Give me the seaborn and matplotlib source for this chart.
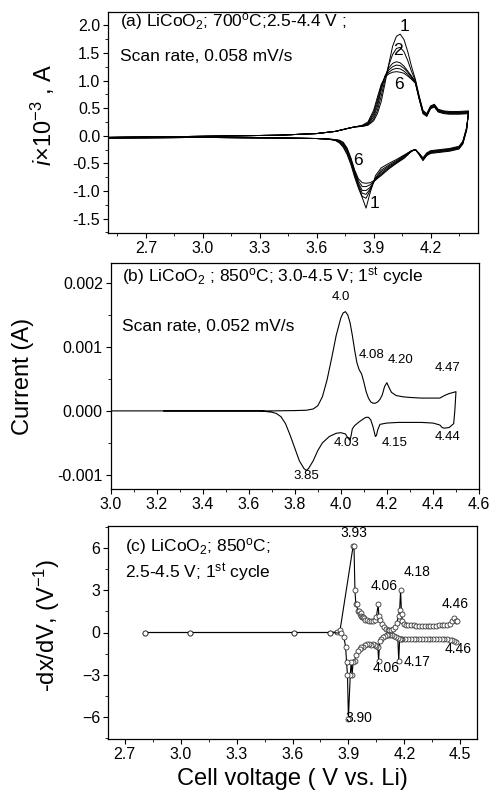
import numpy as np
import pandas as pd
import matplotlib
matplotlib.use("Agg")
import matplotlib.pyplot as plt
import seaborn as sns
from matplotlib.ticker import MultipleLocator, AutoMinorLocator, FormatStrFormatter

# ---------------- data : panel (a), 6 CV cycles, current in mA ----------------
va_ox = [2.50, 3.00, 3.40, 3.60, 3.70, 3.76, 3.80, 3.84, 3.87, 3.90, 3.92, 3.94, 3.96, 3.98, 4.00, 4.02,
         4.04, 4.06, 4.08, 4.10, 4.12, 4.14, 4.16, 4.18, 4.20, 4.22, 4.24, 4.27, 4.30, 4.35, 4.40]
a_ox1 = [-0.03, -0.01, 0.01, 0.04, 0.08, 0.13, 0.16, 0.17, 0.19, 0.27, 0.40, 0.62, 0.95, 1.30, 1.62, 1.80,
         1.84, 1.74, 1.52, 1.25, 1.02, 0.72, 0.46, 0.40, 0.54, 0.57, 0.48, 0.45, 0.44, 0.44, 0.45]
a_ox2 = [-0.03, -0.01, 0.01, 0.04, 0.08, 0.13, 0.16, 0.17, 0.20, 0.30, 0.46, 0.72, 1.02, 1.28, 1.47, 1.58,
         1.60, 1.52, 1.36, 1.16, 1.00, 0.70, 0.44, 0.39, 0.53, 0.56, 0.47, 0.44, 0.43, 0.43, 0.44]
a_ox3 = [-0.03, -0.01, 0.01, 0.04, 0.08, 0.13, 0.16, 0.18, 0.21, 0.34, 0.53, 0.82, 1.08, 1.23, 1.31, 1.34,
         1.32, 1.26, 1.17, 1.08, 0.98, 0.69, 0.43, 0.38, 0.52, 0.55, 0.46, 0.43, 0.42, 0.42, 0.43]
a_ox4 = [-0.03, -0.01, 0.01, 0.04, 0.08, 0.13, 0.16, 0.18, 0.22, 0.38, 0.59, 0.87, 1.08, 1.19, 1.25, 1.28,
         1.27, 1.22, 1.15, 1.06, 0.97, 0.68, 0.42, 0.37, 0.51, 0.54, 0.45, 0.42, 0.41, 0.41, 0.42]
a_ox5 = [-0.03, -0.01, 0.01, 0.04, 0.08, 0.13, 0.16, 0.18, 0.23, 0.42, 0.65, 0.90, 1.07, 1.15, 1.20, 1.22,
         1.21, 1.17, 1.11, 1.04, 0.96, 0.67, 0.41, 0.36, 0.50, 0.53, 0.44, 0.41, 0.40, 0.40, 0.41]
a_ox6 = [-0.03, -0.01, 0.01, 0.04, 0.08, 0.13, 0.16, 0.19, 0.25, 0.46, 0.70, 0.93, 1.06, 1.12, 1.15, 1.16,
         1.15, 1.13, 1.08, 1.02, 0.95, 0.66, 0.40, 0.35, 0.49, 0.52, 0.43, 0.40, 0.39, 0.39, 0.40]

va_red = [4.40, 4.39, 4.37, 4.35, 4.30, 4.25, 4.20, 4.18, 4.16, 4.14, 4.12, 4.10, 4.06, 4.02, 3.98, 3.94,
          3.91, 3.88, 3.86, 3.84, 3.82, 3.80, 3.78, 3.76, 3.74, 3.72, 3.70, 3.66, 3.60, 3.40, 3.00, 2.50]
a_red1 = [0.45, 0.10, -0.15, -0.24, -0.28, -0.30, -0.32, -0.36, -0.45, -0.34, -0.25, -0.27, -0.35, -0.43, -0.50, -0.58,
          -0.72, -1.05, -1.31, -1.12, -0.95, -0.75, -0.52, -0.34, -0.21, -0.13, -0.09, -0.06, -0.05, -0.04, -0.03, -0.04]
a_red2 = [0.44, 0.11, -0.14, -0.23, -0.27, -0.29, -0.31, -0.35, -0.44, -0.34, -0.25, -0.27, -0.36, -0.45, -0.53, -0.62,
          -0.76, -1.00, -1.13, -1.10, -0.92, -0.72, -0.49, -0.31, -0.19, -0.12, -0.08, -0.06, -0.05, -0.04, -0.03, -0.04]
a_red3 = [0.43, 0.12, -0.13, -0.22, -0.26, -0.28, -0.30, -0.34, -0.43, -0.33, -0.25, -0.27, -0.37, -0.47, -0.55, -0.65,
          -0.78, -0.97, -1.06, -1.04, -0.89, -0.69, -0.46, -0.28, -0.17, -0.11, -0.08, -0.06, -0.05, -0.04, -0.03, -0.04]
a_red4 = [0.42, 0.13, -0.12, -0.21, -0.25, -0.27, -0.29, -0.33, -0.42, -0.33, -0.25, -0.28, -0.38, -0.48, -0.57, -0.68,
          -0.79, -0.94, -0.99, -0.99, -0.86, -0.67, -0.44, -0.26, -0.15, -0.10, -0.07, -0.06, -0.05, -0.04, -0.03, -0.04]
a_red5 = [0.41, 0.14, -0.11, -0.20, -0.24, -0.26, -0.28, -0.32, -0.41, -0.32, -0.25, -0.28, -0.40, -0.49, -0.59, -0.70,
          -0.80, -0.89, -0.92, -0.92, -0.82, -0.64, -0.42, -0.24, -0.13, -0.09, -0.07, -0.06, -0.05, -0.04, -0.03, -0.04]
a_red6 = [0.40, 0.15, -0.10, -0.19, -0.23, -0.25, -0.27, -0.31, -0.40, -0.32, -0.25, -0.28, -0.41, -0.50, -0.60, -0.72,
          -0.80, -0.85, -0.86, -0.85, -0.78, -0.62, -0.40, -0.22, -0.12, -0.08, -0.07, -0.06, -0.05, -0.04, -0.03, -0.04]

# ---------------- data : panel (b), 1st cycle, current in mA ----------------
vb_ox = [3.23, 3.50, 3.70, 3.80, 3.85, 3.88, 3.90, 3.92, 3.94, 3.96, 3.98, 4.00, 4.01, 4.02, 4.03, 4.04,
         4.05, 4.06, 4.07, 4.08, 4.09, 4.10, 4.11, 4.12, 4.13, 4.14, 4.15, 4.16, 4.17, 4.18, 4.19, 4.20,
         4.21, 4.22, 4.24, 4.27, 4.30, 4.35, 4.40, 4.43, 4.45, 4.47, 4.49, 4.50]
b_ox = [0.0, 0.0, 0.0, 0.005, 0.01, 0.03, 0.08, 0.22, 0.48, 0.82, 1.18, 1.45, 1.53, 1.55, 1.50, 1.38,
        1.18, 0.95, 0.75, 0.64, 0.58, 0.45, 0.30, 0.20, 0.14, 0.12, 0.12, 0.14, 0.18, 0.25, 0.38, 0.44,
        0.36, 0.29, 0.24, 0.22, 0.21, 0.20, 0.20, 0.20, 0.24, 0.27, 0.29, 0.30]
vb_red = [4.50, 4.495, 4.49, 4.47, 4.45, 4.44, 4.43, 4.40, 4.35, 4.30, 4.25, 4.20, 4.17, 4.16, 4.155, 4.15,
          4.14, 4.13, 4.12, 4.11, 4.10, 4.08, 4.06, 4.05, 4.045, 4.04, 4.03, 4.02, 4.00, 3.98, 3.95, 3.92,
          3.90, 3.88, 3.86, 3.85, 3.84, 3.82, 3.80, 3.78, 3.76, 3.74, 3.72, 3.70, 3.65, 3.50, 3.00]
b_red = [0.30, 0.0, -0.20, -0.26, -0.27, -0.26, -0.22, -0.19, -0.18, -0.18, -0.18, -0.19, -0.21, -0.30, -0.38, -0.40,
         -0.25, -0.14, -0.10, -0.10, -0.12, -0.17, -0.23, -0.28, -0.38, -0.46, -0.42, -0.36, -0.34, -0.35, -0.40, -0.50,
         -0.62, -0.78, -0.90, -0.93, -0.90, -0.78, -0.58, -0.38, -0.20, -0.09, -0.04, -0.02, 0.0, 0.0, 0.0]

# ---------------- data : panel (c), -dx/dV ----------------
vc_ch = [2.81, 3.05, 3.61, 3.80, 3.84, 3.855, 3.925, 3.93, 3.935, 3.94, 3.945, 3.95, 3.955, 3.96, 3.965, 3.97,
         3.975, 3.98, 3.985, 3.99, 4.00, 4.01, 4.02, 4.03, 4.04, 4.05, 4.06, 4.063, 4.07, 4.08, 4.09, 4.10,
         4.11, 4.12, 4.13, 4.14, 4.15, 4.16, 4.17, 4.175, 4.18, 4.185, 4.19, 4.20, 4.21, 4.22, 4.235, 4.25,
         4.265, 4.28, 4.295, 4.31, 4.325, 4.34, 4.355, 4.37, 4.385, 4.40, 4.415, 4.43, 4.445, 4.455, 4.465,
         4.475, 4.485]
c_ch = [0.0, 0.0, 0.0, 0.0, 0.05, 0.15, 6.1, 6.1, 3.0, 2.0, 2.0, 1.5, 1.5, 1.3, 1.4, 1.2,
        1.1, 1.1, 1.0, 0.9, 0.9, 0.8, 0.85, 0.8, 0.9, 1.1, 2.0, 1.2, 0.9, 0.6, 0.4, 0.25,
        0.18, 0.15, 0.18, 0.25, 0.4, 0.7, 1.2, 1.6, 3.0, 1.3, 0.8, 0.6, 0.55, 0.52, 0.5, 0.5,
        0.48, 0.48, 0.48, 0.48, 0.48, 0.48, 0.48, 0.48, 0.5, 0.5, 0.52, 0.55, 0.6, 0.8, 1.0,
        0.85, 0.85]
vc_dis = [4.475, 4.465, 4.455, 4.445, 4.43, 4.415, 4.40, 4.385, 4.37, 4.355, 4.34, 4.325, 4.31, 4.295, 4.28, 4.265,
          4.25, 4.235, 4.22, 4.205, 4.19, 4.18, 4.175, 4.17, 4.165, 4.155, 4.145, 4.135, 4.125, 4.115, 4.105, 4.095,
          4.085, 4.075, 4.068, 4.062, 4.058, 4.05, 4.04, 4.03, 4.02, 4.01, 4.00, 3.99, 3.98, 3.97, 3.96, 3.95,
          3.94, 3.935, 3.925, 3.92, 3.915, 3.91, 3.90, 3.895, 3.89, 3.885, 3.875, 3.86, 3.80, 3.61, 3.05, 2.81]
c_dis = [-0.7, -0.6, -0.55, -0.5, -0.48, -0.46, -0.45, -0.45, -0.45, -0.45, -0.45, -0.45, -0.45, -0.45, -0.45, -0.45,
         -0.45, -0.45, -0.45, -0.45, -0.45, -0.48, -0.45, -2.0, -0.4, -0.3, -0.25, -0.18, -0.15, -0.15, -0.2, -0.25,
         -0.35, -0.45, -0.6, -2.0, -1.0, -0.95, -0.9, -0.85, -0.9, -0.8, -0.85, -0.9, -1.0, -1.05, -1.2, -1.3,
         -1.6, -2.0, -2.1, -3.0, -2.1, -3.0, -6.1, -3.0, -2.1, -1.0, -0.3, -0.05, 0.0, 0.0, 0.0, 0.0]

# ---------------- style ----------------
sns.set_style("ticks")
plt.rcParams["font.family"] = ["Liberation Sans", "DejaVu Sans"]
plt.rcParams["mathtext.fontset"] = "custom"
plt.rcParams["mathtext.rm"] = "Liberation Sans"
plt.rcParams["mathtext.it"] = "Liberation Sans:italic"
plt.rcParams["axes.linewidth"] = 0.9
for k in ["text.color", "axes.labelcolor", "xtick.color", "ytick.color", "axes.edgecolor"]:
    plt.rcParams[k] = "black"
plt.rcParams["xtick.major.size"] = 3.5
plt.rcParams["ytick.major.size"] = 3.5
plt.rcParams["xtick.minor.size"] = 2
plt.rcParams["ytick.minor.size"] = 2
plt.rcParams["xtick.major.pad"] = 2.5
plt.rcParams["ytick.major.pad"] = 2
plt.rcParams["xtick.labelsize"] = 11.5
plt.rcParams["ytick.labelsize"] = 11.5

W, H = 493, 802
fig = plt.figure(figsize=(W / 100, H / 100), dpi=100)


def box(l, r, t, b):
    return fig.add_axes([l / W, 1 - b / H, (r - l) / W, (b - t) / H])


def finish(ax):
    ax.xaxis.set_minor_locator(AutoMinorLocator(2))
    ax.yaxis.set_minor_locator(AutoMinorLocator(2))
    ax.tick_params(which="both", top=False, right=False, color="black")
    for s in ax.spines.values():
        s.set_visible(True)
        s.set_color("black")
    ax.set_xlabel("")
    ax.set_ylabel("")


# ---------------- panel (a) ----------------
ox = [a_ox1, a_ox2, a_ox3, a_ox4, a_ox5, a_ox6]
red = [a_red1, a_red2, a_red3, a_red4, a_red5, a_red6]
rows = []
for k in range(6):
    for v, i in zip(va_ox + va_red, ox[k] + red[k]):
        rows.append((k + 1, v, i))
df_a = pd.DataFrame(rows, columns=["cycle", "V", "I"])

ax1 = box(108, 478, 12, 233)
sns.lineplot(data=df_a, x="V", y="I", units="cycle", estimator=None, sort=False,
             color="black", lw=0.7, ax=ax1)
ax1.set_xlim(2.5, 4.45)
ax1.set_ylim(-1.76, 2.24)
ax1.xaxis.set_major_formatter(FormatStrFormatter("%.1f"))
ax1.yaxis.set_major_locator(MultipleLocator(0.5))
ax1.yaxis.set_major_formatter(FormatStrFormatter("%.1f"))
ax1.set_xticks([2.7, 3.0, 3.3, 3.6, 3.9, 4.2])
finish(ax1)
ax1.text(0.032, 0.955, r"(a) LiCoO$_2$; 700$^{\mathrm{o}}$C;2.5-4.4 V ;", transform=ax1.transAxes,
         fontsize=12.5, va="center")
ax1.text(0.032, 0.80, "Scan rate, 0.058 mV/s", transform=ax1.transAxes, fontsize=12.5, va="center")
for s, x, y in [("1", 4.065, 1.97), ("2", 4.03, 1.55), ("6", 4.035, 0.92), ("6", 3.815, -0.44), ("1", 3.905, -1.23)]:
    ax1.text(x, y, s, fontsize=12.5, ha="center", va="center")

# ---------------- panel (b) ----------------
df_b = pd.DataFrame({"V": vb_ox + vb_red, "I": [x * 1e-3 for x in b_ox + b_red]})
ax2 = box(110.5, 479, 263, 489)
sns.lineplot(data=df_b, x="V", y="I", estimator=None, sort=False, color="black", lw=0.8, ax=ax2)
ax2.set_xlim(3.0, 4.6)
ax2.set_ylim(-0.00122, 0.00231)
ax2.xaxis.set_major_locator(MultipleLocator(0.2))
ax2.xaxis.set_major_formatter(FormatStrFormatter("%.1f"))
ax2.yaxis.set_major_locator(MultipleLocator(0.001))
ax2.yaxis.set_major_formatter(FormatStrFormatter("%.3f"))
finish(ax2)
ax2.text(0.03, 0.94, r"(b) LiCoO$_2$ ; 850$^{\mathrm{o}}$C; 3.0-4.5 V; 1$^{\mathrm{st}}$ cycle",
         transform=ax2.transAxes, fontsize=12.5, va="center")
ax2.text(0.03, 0.717, "Scan rate, 0.052 mV/s", transform=ax2.transAxes, fontsize=12.5, va="center")
for s, x, y in [("4.0", 4.0, 0.00178), ("4.08", 4.135, 0.00087), ("4.20", 4.26, 0.00080),
                ("4.47", 4.465, 0.00067), ("3.85", 3.85, -0.00101), ("4.03", 4.025, -0.00050),
                ("4.15", 4.235, -0.00050), ("4.44", 4.465, -0.00040)]:
    ax2.text(x, y, s, fontsize=9.5, ha="center", va="center")

# ---------------- panel (c) ----------------
df_c = pd.DataFrame({"branch": ["ch"] * len(vc_ch) + ["dis"] * len(vc_dis),
                     "V": vc_ch + vc_dis, "I": c_ch + c_dis})
ax3 = box(108, 477, 526, 739)
sns.lineplot(data=df_c, x="V", y="I", units="branch", estimator=None, sort=False, color="black",
             lw=0.8, marker="o", markersize=3.6, markerfacecolor="white", markeredgecolor="#333333",
             markeredgewidth=0.6, ax=ax3)
ax3.set_xlim(2.61, 4.59)
ax3.set_ylim(-7.55, 7.55)
ax3.xaxis.set_major_formatter(FormatStrFormatter("%.1f"))
ax3.set_xticks([2.7, 3.0, 3.3, 3.6, 3.9, 4.2, 4.5])
ax3.yaxis.set_major_locator(MultipleLocator(3))
finish(ax3)
ax3.text(0.046, 0.905, r"(c) LiCoO$_2$; 850$^{\mathrm{o}}$C;", transform=ax3.transAxes,
         fontsize=12.5, va="center")
ax3.text(0.046, 0.78, r"2.5-4.5 V; 1$^{\mathrm{st}}$ cycle", transform=ax3.transAxes,
         fontsize=12.5, va="center")
for s, x, y in [("3.93", 3.93, 7.05), ("4.06", 4.09, 3.3), ("4.18", 4.27, 4.3), ("4.46", 4.47, 2.0),
                ("4.46", 4.49, -1.2), ("4.06", 4.10, -2.5), ("4.17", 4.27, -2.1), ("3.90", 3.955, -6.05)]:
    ax3.text(x, y, s, fontsize=10, ha="center", va="center")

# ---------------- axis titles ----------------
fig.text(43 / W, 1 - 115 / H, r"$i$$\times$10$^{-3}$ , A", rotation=90, fontsize=17,
         ha="center", va="center")
fig.text(23 / W, 1 - 376 / H, "Current (A)", rotation=90, fontsize=17, ha="center", va="center")
fig.text(47 / W, 1 - 625 / H, r"-dx/dV, (V$^{-1}$)", rotation=90, fontsize=17, ha="center", va="center")
fig.text(292 / W, 1 - 779 / H, "Cell voltage ( V vs. Li)", fontsize=17, ha="center", va="center")

fig.savefig("out.png", dpi=100)
